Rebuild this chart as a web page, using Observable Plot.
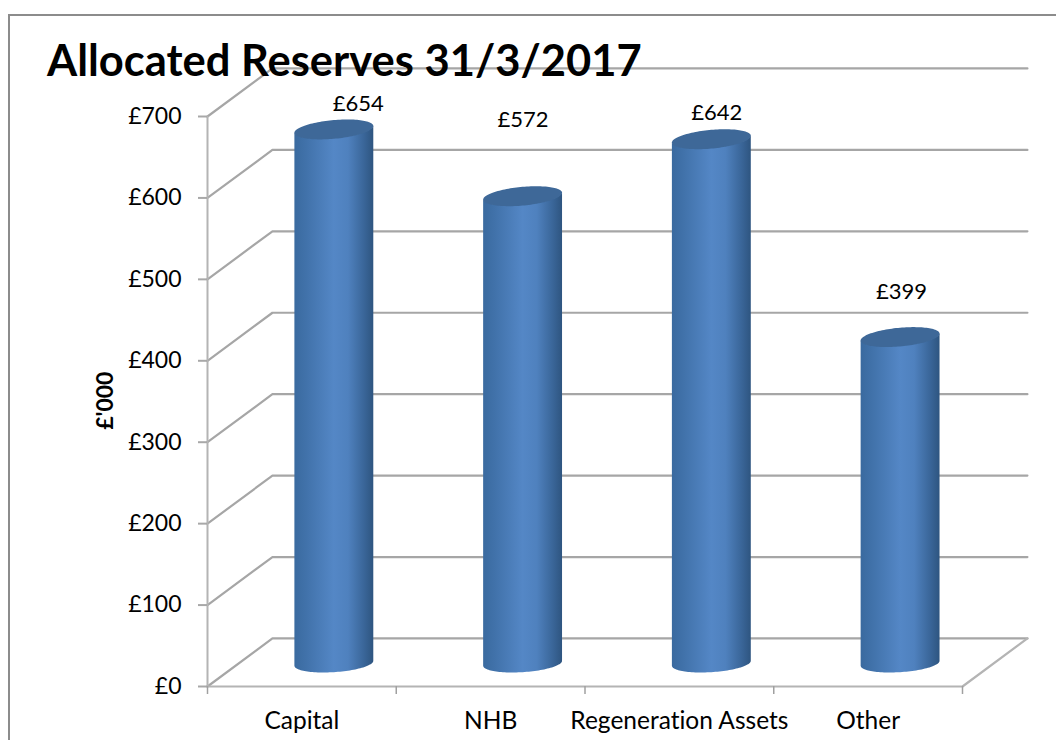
<!DOCTYPE html>
<html>
<head>
<meta charset="utf-8">
<script src="https://cdn.jsdelivr.net/npm/d3@7"></script>
<script src="https://cdn.jsdelivr.net/npm/@observablehq/plot@0.6"></script>
<style>
  html, body { margin: 0; padding: 0; background: #fff; overflow: hidden; font-variant-ligatures: none; }
  #page { position: relative; width: 1056px; height: 740px; overflow: hidden; }
  #edge { position: absolute; left: 8px; top: 14px; width: 1100px; height: 800px; border: 2px solid #8c8c8c; box-sizing: border-box; }
  #title { position: absolute; left: 47px; top: 33px; font: 700 43.5px Lato, sans-serif; color: #000; white-space: nowrap; z-index: 2; }
  #chart { position: absolute; left: 0; top: 0; }
  #chart text { font-variant-ligatures: none; }
</style>
</head>
<body>
<div id="page">
  <div id="edge"></div>
  <div id="chart"></div>
  <div id="title">Allocated Reserves 31/3/2017</div>
</div>
<script>
// Allocated reserves by category, in £'000
const categories = ["Capital", "NHB", "Regeneration Assets", "Other"];
const reserves = [654, 572, 642, 399];
const valueTicks = [0, 100, 200, 300, 400, 500, 600, 700];
const categoryEdges = [0, 1, 2, 3, 4];

// Oblique depth of the 3D box, in data units of the x and y scales
const depthX = 0.344;
const depthY = 59;
const columnDepth = 0.5;        // columns stand halfway back on the floor
const radiusX = 0.209;          // column radius along x
const capRise = 11.5;           // half height of the elliptical ends
const capTilt = 4.2;            // the ends lean up to the right
const baseRise = 11;
const baseSag = 1.5;

// Pixel nudges for the value labels above each column
const labelShift = [[24, -26], [0, -77], [5, -27], [1, -46]];

const project = (x, y, d) => ({x: x + d * depthX, y: y + d * depthY});
const sweep = d3.range(0, 61).map(i => -Math.cos(i / 60 * Math.PI));

const wallLines = valueTicks.flatMap(v => [
  {v, ...project(0, v, 0)},
  {v, ...project(0, v, 1)},
  {v, ...project(4, v, 1)}
]);
const floorEdge = [project(4, 0, 1), project(4, 0, 0), project(0, 0, 0)];

const columns = categories.flatMap((c, i) => {
  const centre = project(i + 0.5, reserves[i], columnDepth);
  const base = project(i + 0.5, 0, columnDepth);
  return sweep.map(u => ({
    c,
    x: centre.x + u * radiusX,
    lower: base.y - baseSag + u * 3 - baseRise * Math.sqrt(1 - u * u),
    capLow: centre.y + u * capTilt - capRise * Math.sqrt(1 - u * u),
    capHigh: centre.y + u * capTilt + capRise * Math.sqrt(1 - u * u)
  }));
});

// Horizontal shading shared by all column bodies
const shading = () => {
  const defs = d3.create("svg:defs");
  const g = defs.append("linearGradient").attr("id", "columnShade")
    .attr("x1", 0).attr("x2", 1).attr("y1", 0).attr("y2", 0);
  [[0, "#3a6a9f"], [0.15, "#4172aa"], [0.5, "#5487c6"], [0.68, "#4f81be"], [0.88, "#3a6699"], [1, "#2e5580"]]
    .forEach(([o, col]) => g.append("stop").attr("offset", o).attr("stop-color", col));
  return defs.node();
};

const chart = Plot.plot({
  width: 1056,
  height: 740,
  marginLeft: 207,
  marginRight: 94,
  marginTop: 116,
  marginBottom: 54,
  style: {fontFamily: "Lato, sans-serif", background: "transparent", overflow: "visible"},
  x: {domain: [0, 4]},
  y: {domain: [0, 700]},
  marks: [
    shading,
    Plot.line(wallLines, {x: "x", y: "y", z: "v", stroke: "#a6a6a6", strokeWidth: 2.2}),
    Plot.line(floorEdge, {x: "x", y: "y", stroke: "#b4b4b4", strokeWidth: 2.2}),
    Plot.ruleX([0], {y1: 0, y2: 700, stroke: "#b4b4b4", strokeWidth: 2}),
    Plot.axisY({ticks: valueTicks, tickFormat: d => `£${d}`, tickSize: 9, tickPadding: 17,
      fontSize: 23, stroke: "#a8a8a8", fill: "#000", label: null, strokeWidth: 2}),
    Plot.axisX({ticks: categoryEdges, tickFormat: () => "", tickSize: 8, stroke: "#a0a0a0", label: null, strokeWidth: 1.5}),
    Plot.axisX({ticks: categories.map((c, i) => i + 0.5), tickFormat: d => categories[d - 0.5], tickSize: 0,
      tickPadding: 25, fontSize: 24.5, fill: "#000", label: null}),
    Plot.text(["£'000"], {x: () => 0, y: () => 351, dx: -102, rotate: -90, textAnchor: "middle",
      fontSize: 23, fontWeight: 700, fill: "#000"}),
    // Column bodies, then their darker caps
    Plot.areaY(columns, {x: "x", y1: "lower", y2: d => d.capLow + 1, z: "c", fill: "url(#columnShade)"}),
    Plot.areaY(columns, {x: "x", y1: "capLow", y2: "capHigh", z: "c", fill: "#3e6898"}),
    ...categories.map((c, i) => {
      const at = project(i + 0.5, reserves[i], columnDepth);
      return Plot.text([`£${reserves[i]}`], {x: () => at.x, y: () => at.y, text: d => d,
        dx: labelShift[i][0], dy: labelShift[i][1], fontSize: 22, fill: "#000"});
    })
  ]
});
document.getElementById("chart").append(chart);
</script>
</body>
</html>
